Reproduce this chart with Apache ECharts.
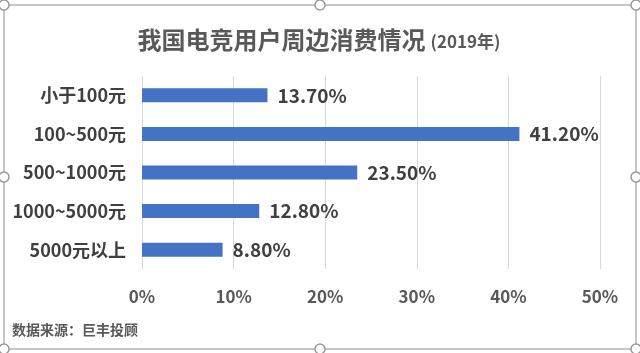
<!DOCTYPE html>
<html>
<head>
<meta charset="utf-8">
<script src="https://cdn.jsdelivr.net/npm/echarts@6/dist/echarts.min.js"></script>
<style>
  html, body { margin: 0; padding: 0; background: #fff; }
  #chart { width: 640px; height: 353px; }
</style>
</head>
<body>
<div id="chart"></div>
<script>
// 消费区间 & 占比 (%)
const categories = ['小于100元', '100~500元', '500~1000元', '1000~5000元', '5000元以上'];
const shares = [13.7, 41.2, 23.5, 12.8, 8.8];
const xTicks = [0, 10, 20, 30, 40, 50];

const FONT = '"Noto Sans CJK SC", "Noto Sans", sans-serif';

const chart = echarts.init(document.getElementById('chart'));

// excel-style selection frame with handles
const handles = [[4, 5], [320, 5], [636, 5], [4, 177], [636, 177], [4, 349], [320, 349], [636, 349]];
const frame = [{
    type: 'rect',
    shape: { x: 4, y: 5, width: 632, height: 344 },
    style: { fill: 'none', stroke: '#b4b4b4', lineWidth: 1.5 },
    silent: true
}].concat(handles.map(p => ({
    type: 'circle',
    shape: { cx: p[0], cy: p[1], r: 5 },
    style: { fill: '#fff', stroke: '#9a9a9a', lineWidth: 1.5 },
    silent: true,
    z: 10
})));

const option = {
    backgroundColor: '#fff',
    animation: false,
    title: {
        text: '{main|我国电竞用户周边消费情况} {sub|(2019年)}',
        left: 314,
        textAlign: 'center',
        top: 23,
        textStyle: {
            rich: {
                main: { fontFamily: FONT, fontSize: 24, fontWeight: 'bold', color: '#595959' },
                sub: { fontFamily: FONT, fontSize: 17, fontWeight: 'bold', color: '#595959', padding: [4, 0, 0, 0] }
            }
        }
    },
    grid: { left: 142, right: 40, top: 76, bottom: 84 },
    xAxis: {
        type: 'value',
        min: 0,
        max: 50,
        interval: 10,
        axisLine: { show: false },
        axisTick: { show: false },
        splitLine: { lineStyle: { color: '#d9d9d9', width: 1 } },
        axisLabel: {
            margin: 19,
            fontFamily: FONT,
            fontSize: 17,
            fontWeight: 'bold',
            color: '#595959',
            formatter: v => xTicks.includes(v) ? v + '%' : ''
        }
    },
    yAxis: {
        type: 'category',
        inverse: true,
        data: categories,
        axisLine: { show: false },
        axisTick: { show: false },
        axisLabel: {
            margin: 16,
            fontFamily: FONT,
            fontSize: 18,
            fontWeight: 'bold',
            color: '#404040'
        }
    },
    series: [{
        type: 'bar',
        data: shares,
        barWidth: 14,
        itemStyle: { color: '#4472C4' },
        label: {
            show: true,
            position: 'right',
            distance: 10,
            fontFamily: FONT,
            fontSize: 19,
            fontWeight: 'bold',
            color: '#404040',
            formatter: p => p.value.toFixed(2) + '%'
        }
    }],
    graphic: frame.concat([{
        type: 'text',
        left: 12,
        top: 323,
        style: {
            text: '数据来源：巨丰投顾',
            font: 'bold 14px ' + FONT,
            fill: '#595959'
        }
    }])
};

chart.setOption(option);
window.addEventListener('resize', chart.resize);
</script>
</body>
</html>
